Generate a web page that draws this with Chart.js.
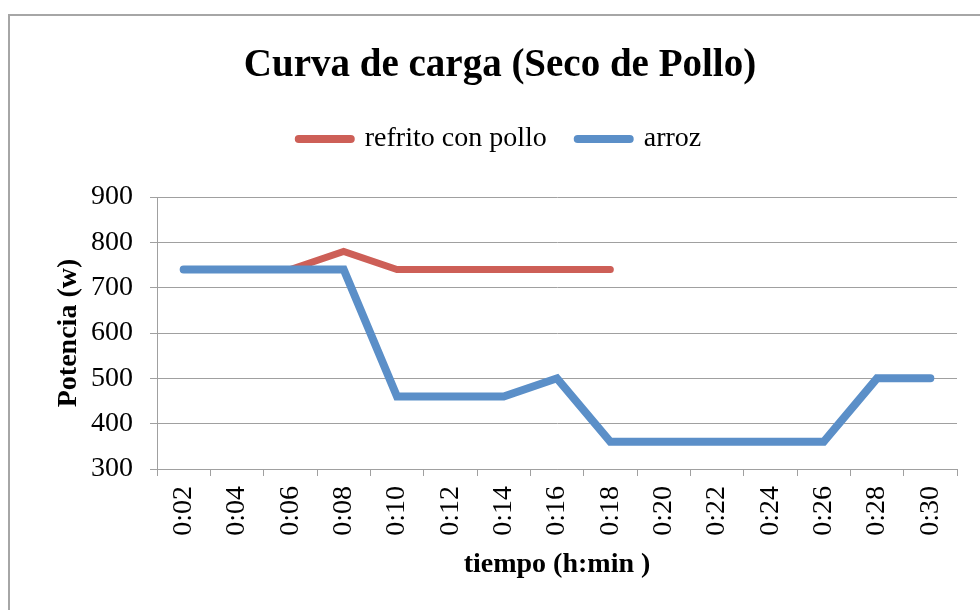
<!DOCTYPE html>
<html><head><meta charset="utf-8">
<script src="https://cdn.jsdelivr.net/npm/chart.js@4/dist/chart.umd.min.js"></script>
<style>
html,body{margin:0;padding:0;background:#fff;overflow:hidden;}
#wrap{position:relative;width:980px;height:610px;overflow:hidden;background:#fff;}
#frame{position:absolute;left:8px;top:14px;width:1000px;height:700px;border:2px solid #a6a6a6;box-sizing:border-box;}
canvas{position:absolute;left:0;top:0;}
</style></head><body>
<div id="wrap"><div id="frame"></div><canvas id="c" width="980" height="610"></canvas></div>
<script>
const categories = ['0:02','0:04','0:06','0:08','0:10','0:12','0:14','0:16','0:18','0:20','0:22','0:24','0:26','0:28','0:30'];
const refritoValues = [740,740,740,780,740,740,740,740,740];
const arrozValues = [740,740,740,740,460,460,460,500,360,360,360,360,360,500,500];
const seriesNames = ['refrito con pollo','arroz'];
const yMin = 300, yMax = 900, yStep = 100;
const titleText = 'Curva de carga (Seco de Pollo)';
const xTitle = 'tiempo (h:min )';
const yTitle = 'Potencia (w)';

const RED = '#CD5F57', BLUE = '#5B8FC8', GRID = '#a0a0a0';
const FONT = "'Liberation Serif', 'Times New Roman', serif";

const legendGap = {
  id: 'legendGap',
  beforeInit(chart) {
    const lg = chart.legend;
    const f = lg.fit;
    lg.fit = function () { f.call(this); this.height += 34; };
  }
};

new Chart(document.getElementById('c'), {
  type: 'line',
  data: {
    labels: categories,
    datasets: [
      { label: seriesNames[0], data: refritoValues, borderColor: RED, backgroundColor: RED,
        borderWidth: 7, borderCapStyle: 'round', tension: 0, pointRadius: 0, pointHoverRadius: 0,
        pointStyle: 'line', pointBorderColor: RED, pointBorderWidth: 8, order: 1 },
      { label: seriesNames[1], data: arrozValues, borderColor: BLUE, backgroundColor: BLUE,
        borderWidth: 8, borderCapStyle: 'round', tension: 0, pointRadius: 0, pointHoverRadius: 0,
        pointStyle: 'line', pointBorderColor: BLUE, pointBorderWidth: 8, order: 0 }
    ]
  },
  plugins: [legendGap],
  options: {
    responsive: false,
    animation: false,
    events: [],
    layout: { padding: { left: 43, right: 23, top: 0, bottom: 0 } },
    plugins: {
      title: {
        display: true, text: titleText, color: '#000',
        font: { family: FONT, size: 39, weight: 'bold' },
        padding: { top: 42.6, bottom: 4.6 }
      },
      legend: {
        display: true, position: 'top',
        labels: {
          color: '#000',
          font: { family: FONT, size: 28 },
          usePointStyle: true, pointStyleWidth: 52, padding: 31,
          sort: (a, b) => a.datasetIndex - b.datasetIndex,
          generateLabels(chart) {
            return Chart.defaults.plugins.legend.labels.generateLabels(chart)
              .map(it => Object.assign(it, { lineCap: 'round', lineWidth: 8 }));
          }
        }
      },
      tooltip: { enabled: false }
    },
    scales: {
      x: {
        offset: true,
        grid: { offset: true, drawOnChartArea: false, drawTicks: true, tickLength: 7, color: GRID, lineWidth: 1 },
        border: { color: GRID, width: 1 },
        ticks: { color: '#000', font: { family: FONT, size: 28 }, minRotation: 90, maxRotation: 90, autoSkip: false, padding: 10 },
        title: { display: true, text: xTitle, color: '#000', font: { family: FONT, size: 28, weight: 'bold' }, padding: { top: 0, bottom: 28.7 } },
        afterFit(s) { s.height = 141; }
      },
      y: {
        min: yMin, max: yMax,
        grid: { color: GRID, lineWidth: 1, tickLength: 7, drawTicks: true },
        border: { color: GRID, width: 1 },
        ticks: { stepSize: yStep, color: '#000', font: { family: FONT, size: 28 }, padding: 17 },
        title: { display: true, text: yTitle, color: '#000', font: { family: FONT, size: 28, weight: 'bold' }, padding: { top: 8.7, bottom: 0 } },
        afterFit(s) { s.width = 114; }
      }
    }
  }
});
</script>
</body></html>
